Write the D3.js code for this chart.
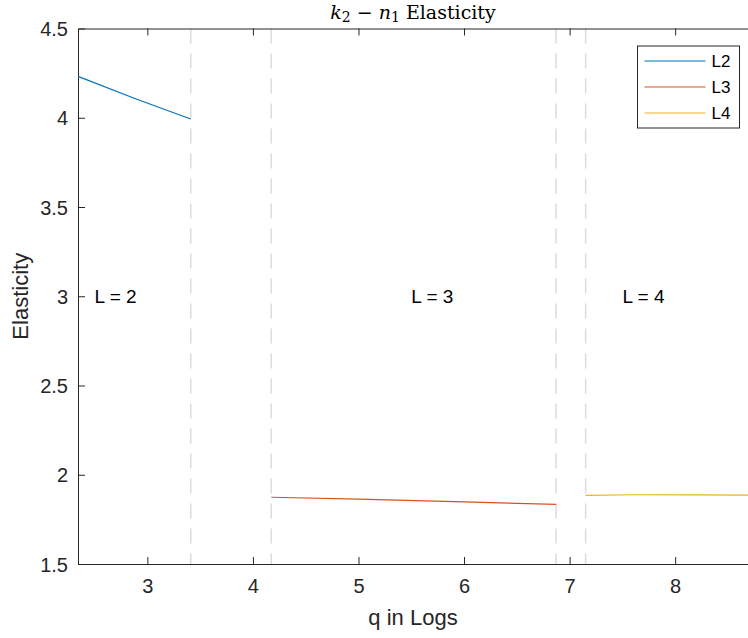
<!DOCTYPE html>
<html>
<head>
<meta charset="utf-8">
<script src="https://d3js.org/d3.v7.min.js"></script>
<style>
  body { margin: 0; background: #fff; }
  svg { display: block; }
  .tick text { font-family: "Liberation Sans", Arial, sans-serif; font-size: 20px; fill: #262626; }
</style>
</head>
<body>
<div id="chart"></div>
<script>
// series
var l2X = [2.343, 2.9, 3.411];
var l2Y = [4.232, 4.104, 3.993];
var l3X = [4.174, 5.0, 6.0, 6.872];
var l3Y = [1.874, 1.863, 1.848, 1.834];
var l4X = [7.152, 7.6, 8.2, 8.69];
var l4Y = [1.885, 1.888, 1.887, 1.886];

var regimeBreaks = [3.411, 4.174, 6.872, 7.152];
var regimeLabels = ["L = 2", "L = 3", "L = 4"];
var regimeLabelX = [2.5, 5.5, 7.5];
var regimeLabelY = 3;

var seriesNames = ["L2", "L3", "L4"];
var seriesColors = ["#0072BD", "#D95319", "#EDB120"];

var xTicks = [3, 4, 5, 6, 7, 8];
var yTicks = [1.5, 2, 2.5, 3, 3.5, 4, 4.5];

var width = 748, height = 638;
var margin = { top: 28.5, right: 0, bottom: 74, left: 78 };
var innerW = width - margin.left - margin.right,
    innerH = height - margin.top - margin.bottom;

var svg = d3.select("#chart").append("svg")
    .attr("width", width)
    .attr("height", height);

var g = svg.append("g")
    .attr("transform", "translate(" + margin.left + "," + margin.top + ")");

var x = d3.scaleLinear().domain([2.343, 8.69]).range([0, innerW]);
var y = d3.scaleLinear().domain([1.5, 4.5]).range([innerH, 0]);

// dashed regime boundaries
g.selectAll(".brk").data(regimeBreaks).enter().append("line")
    .attr("x1", d => x(d)).attr("x2", d => x(d))
    .attr("y1", 0).attr("y2", innerH)
    .attr("stroke", "#dcdcdc")
    .attr("stroke-width", 1.5)
    .attr("stroke-dasharray", "15,10");

// axes (MATLAB-like: inward ticks, box on top and left)
var axisColor = "#262626";
var xAxis = g.append("g").attr("transform", "translate(0," + innerH + ")")
    .call(d3.axisBottom(x).tickValues(xTicks).tickSizeInner(-7).tickSizeOuter(0).tickPadding(22).tickFormat(d3.format("d")));
var xTop = g.append("g")
    .call(d3.axisTop(x).tickValues(xTicks).tickSizeInner(-7).tickSizeOuter(0).tickFormat(""));
var yAxis = g.append("g")
    .call(d3.axisLeft(y).tickValues(yTicks).tickSizeInner(-7).tickSizeOuter(0).tickPadding(10).tickFormat(d3.format("")));
[xAxis, xTop, yAxis].forEach(a => {
  a.select(".domain").attr("stroke", axisColor).attr("stroke-width", 1);
  a.selectAll(".tick line").attr("stroke", axisColor);
});
xAxis.selectAll(".tick text").attr("dy", "0.35em");
yAxis.selectAll(".tick text").attr("dy", "0.36em");

// lines
var line = d3.line().x(d => x(d[0])).y(d => y(d[1]));
var series = [d3.zip(l2X, l2Y), d3.zip(l3X, l3Y), d3.zip(l4X, l4Y)];
g.selectAll(".series").data(series).enter().append("path")
    .attr("d", line)
    .attr("fill", "none")
    .attr("stroke", (d, i) => seriesColors[i])
    .attr("stroke-width", 1.2);

// regime labels
g.selectAll(".reg").data(regimeLabels).enter().append("text")
    .attr("x", (d, i) => x(regimeLabelX[i]))
    .attr("y", y(regimeLabelY))
    .attr("dy", "0.35em")
    .attr("font-family", "Liberation Sans, Arial, sans-serif")
    .attr("font-size", 19)
    .attr("fill", "#000")
    .text(d => d);

// title
var title = svg.append("text")
    .attr("x", margin.left + innerW / 2)
    .attr("y", 19)
    .attr("text-anchor", "middle")
    .attr("font-family", "DejaVu Serif, Liberation Serif, serif")
    .attr("font-size", 19)
    .attr("fill", "#000");
title.append("tspan").attr("font-style", "italic").text("k");
title.append("tspan").attr("font-size", 14).attr("dy", 3).text("2");
title.append("tspan").attr("dy", -3).text(" \u2212 ");
title.append("tspan").attr("font-style", "italic").text("n");
title.append("tspan").attr("font-size", 14).attr("dy", 3).text("1");
title.append("tspan").attr("dy", -3).text(" Elasticity");

// axis labels
svg.append("text")
    .attr("x", margin.left + innerW / 2)
    .attr("y", 625)
    .attr("text-anchor", "middle")
    .attr("font-family", "Liberation Sans, Arial, sans-serif")
    .attr("font-size", 22)
    .attr("fill", axisColor)
    .text("q in Logs");

svg.append("text")
    .attr("transform", "translate(28," + (margin.top + innerH / 2) + ") rotate(-90)")
    .attr("text-anchor", "middle")
    .attr("font-family", "Liberation Sans, Arial, sans-serif")
    .attr("font-size", 22)
    .attr("fill", axisColor)
    .text("Elasticity");

// legend
var legend = svg.append("g").attr("transform", "translate(637.5,46)");
legend.append("rect")
    .attr("width", 102).attr("height", 82)
    .attr("fill", "#fff")
    .attr("stroke", axisColor)
    .attr("stroke-width", 1);
var items = legend.selectAll(".item").data(seriesNames).enter().append("g")
    .attr("transform", (d, i) => "translate(0," + (15 + i * 26) + ")");
items.append("line")
    .attr("x1", 7).attr("x2", 68)
    .attr("stroke", (d, i) => seriesColors[i])
    .attr("stroke-width", 1.2);
items.append("text")
    .attr("x", 74)
    .attr("dy", "0.36em")
    .attr("font-family", "Liberation Sans, Arial, sans-serif")
    .attr("font-size", 17)
    .attr("fill", "#000")
    .text(d => d);
</script>
</body>
</html>
